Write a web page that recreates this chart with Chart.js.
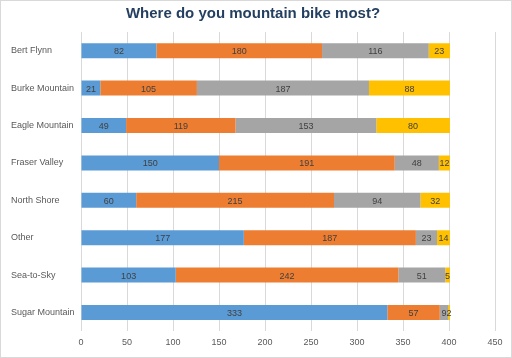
<!DOCTYPE html>
<html>
<head>
<meta charset="utf-8">
<script src="https://cdn.jsdelivr.net/npm/chart.js@4"></script>
<style>
  html, body { margin: 0; padding: 0; background: #fff; }
  #wrap { width: 510px; height: 356px; border: 1px solid #d9d9d9; }
</style>
</head>
<body>
<div id="wrap"><canvas id="bikeChart" width="510" height="356"></canvas></div>
<script>
const places = ['Bert Flynn', 'Burke Mountain', 'Eagle Mountain', 'Fraser Valley', 'North Shore', 'Other', 'Sea-to-Sky', 'Sugar Mountain'];
const series1 = [82, 21, 49, 150, 60, 177, 103, 333];
const series2 = [180, 105, 119, 191, 215, 187, 242, 57];
const series3 = [116, 187, 153, 48, 94, 23, 51, 9];
const series4 = [23, 88, 80, 12, 32, 14, 5, 2];
const xTicks = [0, 50, 100, 150, 200, 250, 300, 350, 400, 450];

// draw the value in the middle of each bar segment
const barLabels = {
  id: 'barLabels',
  afterDatasetsDraw(chart) {
    const ctx = chart.ctx;
    ctx.save();
    ctx.font = '9px "Liberation Sans", Arial, sans-serif';
    ctx.fillStyle = '#404040';
    ctx.textAlign = 'center';
    ctx.textBaseline = 'middle';
    chart.data.datasets.forEach((ds, i) => {
      chart.getDatasetMeta(i).data.forEach((bar, j) => {
        const cx = (bar.x + bar.base) / 2;
        ctx.fillText(ds.data[j], cx, bar.y + 1);
      });
    });
    ctx.restore();
  }
};

const ctx = document.getElementById('bikeChart').getContext('2d');
const bikeChart = new Chart(ctx, {
  type: 'bar',
  data: {
    labels: places,
    datasets: [
      { label: 'Series1', data: series1, backgroundColor: '#5b9bd5' },
      { label: 'Series2', data: series2, backgroundColor: '#ed7d31' },
      { label: 'Series3', data: series3, backgroundColor: '#a5a5a5' },
      { label: 'Series4', data: series4, backgroundColor: '#ffc000' }
    ]
  },
  options: {
    indexAxis: 'y',
    responsive: false,
    animation: false,
    layout: { padding: { left: 10, right: 16, top: 0, bottom: 3 } },
    datasets: { bar: { categoryPercentage: 0.8, barPercentage: 0.5 } },
    scales: {
      x: {
        stacked: true,
        min: 0,
        max: 450,
        afterBuildTicks: axis => { axis.ticks = xTicks.map(v => ({ value: v })); },
        grid: { color: '#d9d9d9', drawTicks: false },
        border: { display: false },
        ticks: { color: '#595959', font: { size: 9, family: '"Liberation Sans", Arial, sans-serif' }, padding: 6 }
      },
      y: {
        stacked: true,
        grid: { display: false },
        border: { display: false },
        afterFit: axis => { axis.width = 70; },
        ticks: { color: '#595959', crossAlign: 'far', font: { size: 9, family: '"Liberation Sans", Arial, sans-serif' } }
      }
    },
    plugins: {
      title: {
        display: true,
        text: 'Where do you mountain bike most?',
        color: '#243f60',
        font: { size: 15, weight: 'bold', family: '"Liberation Sans", Arial, sans-serif' },
        padding: { top: 4, bottom: 9 }
      },
      legend: { display: false },
      tooltip: { enabled: false }
    }
  },
  plugins: [barLabels]
});
</script>
</body>
</html>
